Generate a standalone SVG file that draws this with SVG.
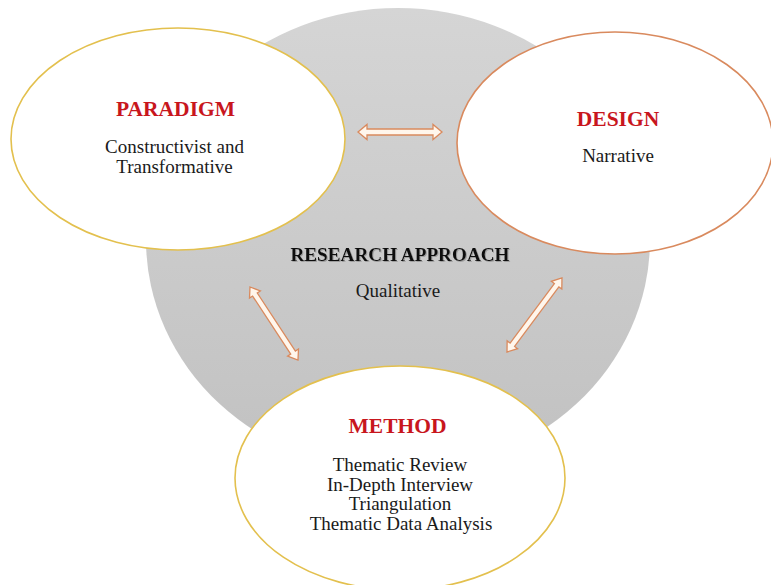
<svg xmlns="http://www.w3.org/2000/svg" width="771" height="585" viewBox="0 0 771 585">
  <defs>
    <linearGradient id="approachFill" x1="0" y1="0" x2="0" y2="1">
      <stop offset="0" stop-color="#d5d5d5"/>
      <stop offset="1" stop-color="#c1c1c1"/>
    </linearGradient>
    <filter id="softShadow" x="-10%" y="-30%" width="120%" height="160%">
      <feDropShadow dx="1" dy="1" stdDeviation="0.6" flood-color="#808080" flood-opacity="0.6"/>
    </filter>
  </defs>
  <style>
    text { font-family: "Liberation Serif", "Times New Roman", serif; text-anchor: middle; }
    .title { font-weight: bold; font-size: 21.5px; fill: #c8161d; }
    .body { font-size: 19px; fill: #1a1a1a; }
    .center-title { font-weight: bold; font-size: 19.2px; fill: #111111; }
    .gold { fill: #ffffff; stroke: #e3c04e; stroke-width: 1.6; }
    .copper { fill: #ffffff; stroke: #d98a5e; stroke-width: 1.6; }
    .arrow { fill: #fff6ec; stroke: #d98a5e; stroke-width: 1.3; stroke-linejoin: miter; }
  </style>

  <rect width="771" height="585" fill="#ffffff"/>

  <!-- central approach disc -->
  <g id="approach">
    <ellipse cx="398" cy="240" rx="252" ry="232" fill="url(#approachFill)"/>
    <text class="center-title" x="400" y="261" filter="url(#softShadow)">RESEARCH APPROACH</text>
    <text class="body" x="398" y="297">Qualitative</text>
  </g>

  <g id="paradigm">
    <ellipse class="gold" cx="178" cy="139" rx="167" ry="111"/>
    <text class="title" x="175.5" y="116">PARADIGM</text>
    <text class="body" x="174.5" y="153">Constructivist and</text>
    <text class="body" x="174.5" y="172.5">Transformative</text>
  </g>

  <g id="design">
    <ellipse class="copper" cx="615" cy="143" rx="158" ry="111"/>
    <text class="title" x="618" y="126">DESIGN</text>
    <text class="body" x="618" y="162">Narrative</text>
  </g>

  <g id="method">
    <ellipse class="gold" cx="400" cy="478" rx="165" ry="112"/>
    <text class="title" x="397.5" y="433">METHOD</text>
    <text class="body" x="400" y="471">Thematic Review</text>
    <text class="body" x="400" y="490.5">In-Depth Interview</text>
    <text class="body" x="400" y="510">Triangulation</text>
    <text class="body" x="401" y="529.5">Thematic Data Analysis</text>
  </g>

  <!-- two-headed block arrows between the nodes -->
  <g id="connectors">
    <polygon class="arrow" transform="translate(358 132)"
      points="0,0 9,-7.5 9,-3 75,-3 75,-7.5 84,0 75,7.5 75,3 9,3 9,7.5"/>
    <polygon class="arrow" transform="translate(250 287) rotate(56.7)"
      points="0,0 9,-6.5 9,-2.8 78.4,-2.8 78.4,-6.5 87.4,0 78.4,6.5 78.4,2.8 9,2.8 9,6.5"/>
    <polygon class="arrow" transform="translate(507 352) rotate(-53.4)"
      points="0,0 9,-6.5 9,-2.8 83.2,-2.8 83.2,-6.5 92.2,0 83.2,6.5 83.2,2.8 9,2.8 9,6.5"/>
  </g>
</svg>
